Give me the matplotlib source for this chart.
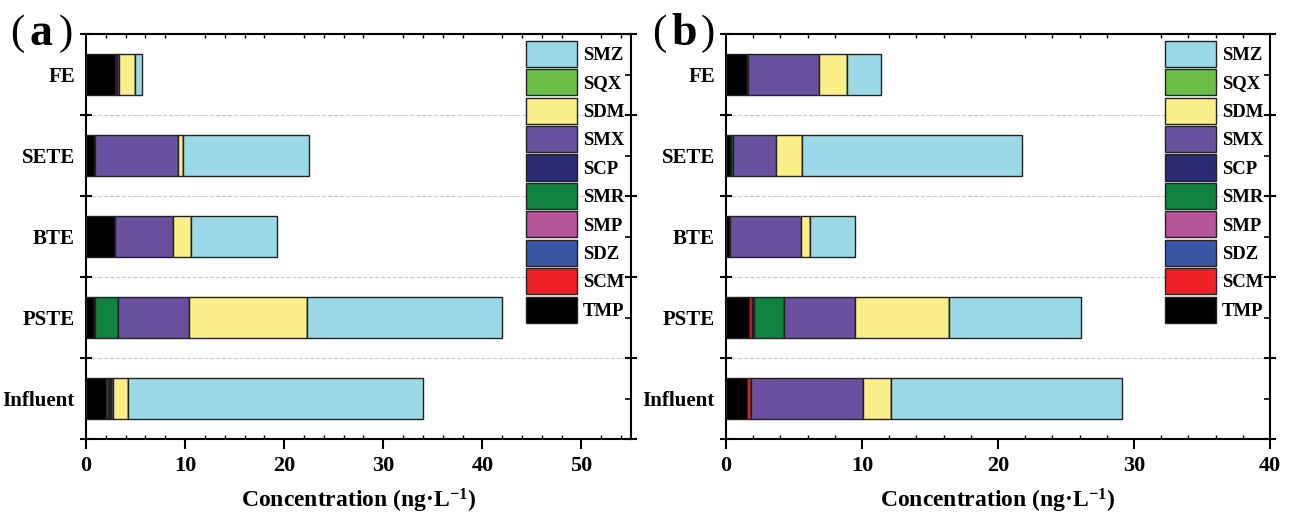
import matplotlib
matplotlib.use("Agg")
import matplotlib.pyplot as plt
import numpy as np

plt.rcParams['font.family'] = ['Liberation Serif', 'DejaVu Serif']
plt.rcParams['font.weight'] = 'bold'
plt.rcParams['mathtext.fontset'] = 'custom'
plt.rcParams['mathtext.rm'] = 'Liberation Serif:bold'
plt.rcParams['mathtext.bf'] = 'Liberation Serif:bold'
plt.rcParams['mathtext.it'] = 'Liberation Serif:bold'

categories = ["Influent", "PSTE", "BTE", "SETE", "FE"]
compounds = ["TMP", "SCM", "SDZ", "SMP", "SMR", "SCP", "SMX", "SDM", "SQX", "SMZ"]
colors = ["#000000", "#EE2127", "#3A55A3", "#B5569B", "#108340", "#2B2A72",
          "#6A51A0", "#F9EE87", "#6BBF47", "#9AD9E5"]

# Panel (a): values per compound, ordered as categories (Influent, PSTE, BTE, SETE, FE)
a_TMP = [2.02, 0.85, 2.90, 0.90, 2.93]
a_SCM = [0.20, 0.04, 0.00, 0.00, 0.05]
a_SDZ = [0.10, 0.03, 0.00, 0.00, 0.00]
a_SMP = [0.05, 0.00, 0.00, 0.00, 0.00]
a_SMR = [0.05, 2.35, 0.00, 0.00, 0.00]
a_SCP = [0.10, 0.00, 0.00, 0.00, 0.10]
a_SMX = [0.17, 7.17, 5.92, 8.35, 0.30]
a_SDM = [1.58, 11.87, 1.75, 0.55, 1.55]
a_SQX = [0.00, 0.00, 0.00, 0.00, 0.00]
a_SMZ = [29.70, 19.68, 8.68, 12.67, 0.71]

# Panel (b)
b_TMP = [1.52, 1.72, 0.29, 0.37, 1.55]
b_SCM = [0.29, 0.17, 0.00, 0.00, 0.05]
b_SDZ = [0.00, 0.10, 0.00, 0.00, 0.00]
b_SMP = [0.00, 0.05, 0.00, 0.00, 0.00]
b_SMR = [0.00, 2.26, 0.00, 0.17, 0.00]
b_SCP = [0.00, 0.00, 0.00, 0.00, 0.00]
b_SMX = [8.26, 5.19, 5.25, 3.14, 5.26]
b_SDM = [2.04, 6.89, 0.66, 1.91, 2.04]
b_SQX = [0.00, 0.00, 0.00, 0.00, 0.00]
b_SMZ = [16.98, 9.71, 3.31, 16.20, 2.50]

data_a = [a_TMP, a_SCM, a_SDZ, a_SMP, a_SMR, a_SCP, a_SMX, a_SDM, a_SQX, a_SMZ]
data_b = [b_TMP, b_SCM, b_SDZ, b_SMP, b_SMR, b_SCP, b_SMX, b_SDM, b_SQX, b_SMZ]

fig = plt.figure(figsize=(12.91, 5.20), dpi=100)
ax_a = fig.add_axes([86/1291, 81/520, (631-86)/1291, (439-34)/520])
ax_b = fig.add_axes([726/1291, 81/520, (1270-726)/1291, (439-34)/520])

def draw(ax, data, xmax, xmajor):
    y = np.arange(len(categories))
    left = np.zeros(len(categories))
    handles = []
    for name, vals, c in zip(compounds, data, colors):
        vals = np.array(vals, dtype=float)
        b = ax.barh(y, vals, left=left, height=0.5, color=c,
                    edgecolor='#222222', linewidth=1.0, label=name, zorder=3)
        handles.append(b)
        left += vals
    ax.set_xlim(0, xmax)
    ax.set_ylim(-0.5, len(categories) - 0.5)
    ax.set_yticks(y)
    ax.set_yticklabels(categories, fontsize=15, fontweight='bold')
    ax.set_yticks(np.arange(-0.5, len(categories), 1.0), minor=True)
    ax.set_xticks(np.arange(0, xmax + 0.01, xmajor))
    ax.set_xticks(np.arange(0, xmax + 0.01, xmajor / 5), minor=True)
    for lab in ax.get_xticklabels():
        lab.set_fontsize(16)
        lab.set_fontweight('bold')
    ax.tick_params(axis='x', which='major', direction='out', length=7, width=1.5, top=False, pad=5)
    ax.tick_params(axis='x', which='minor', direction='in', length=3, width=1.0, top=True)
    ax.tick_params(axis='y', which='major', direction='in', length=4, width=1.2, right=True, pad=8)
    ax.tick_params(axis='y', which='minor', direction='inout', length=8, width=1.5, right=True)
    ax.grid(which='minor', axis='y', linestyle='--', color='#c8c8c8', linewidth=0.8, zorder=0)
    for s in ax.spines.values():
        s.set_linewidth(1.5)
    ax.set_xlabel(r"Concentration (ng·L$^{-1}$)", fontsize=17, fontweight='bold', labelpad=8)
    ax.legend(handles[::-1], compounds[::-1], loc='upper right',
              bbox_to_anchor=(1.0, 1.0), frameon=False,
              prop={'size': 13.5, 'weight': 'bold'},
              handlelength=2.75, handleheight=1.76, labelspacing=0.13,
              handletextpad=0.3, borderaxespad=0.25, borderpad=0.1)
    return ax

draw(ax_a, data_a, 55, 10)
draw(ax_b, data_b, 40, 10)

def panel_label(x, letter):
    fig.text(x, 0.935, "(", fontsize=31, fontweight='normal', ha='left', va='center')
    fig.text(x + 0.015, 0.935, letter, fontsize=33, fontweight='bold', ha='left', va='center')
    fig.text(x + 0.038, 0.935, ")", fontsize=31, fontweight='normal', ha='left', va='center')

panel_label(10/1291, "a")
panel_label(652/1291, "b")

fig.savefig("out.png", dpi=100)
